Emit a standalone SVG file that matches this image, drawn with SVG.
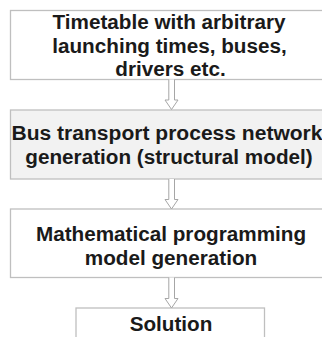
<svg xmlns="http://www.w3.org/2000/svg" width="322" height="337" viewBox="0 0 322 337">
<style>
.box{fill:#ffffff;stroke:#bfbfbf;stroke-width:1.3}
.gray{fill:#f2f2f2}
.t{font-family:"Liberation Sans",Arial,sans-serif;font-weight:bold;font-size:20.7px;fill:#1a1a1a;text-anchor:middle}
.arr{fill:#ffffff;stroke:#a6a6a6;stroke-width:1}
</style>
<rect width="322" height="337" fill="#ffffff"/>
<g id="node-timetable">
<rect class="box" x="10.5" y="10.5" width="330" height="69"/>
<text class="t" x="169" y="28.5">Timetable with arbitrary</text>
<text class="t" x="169.5" y="52.5">launching times, buses,</text>
<text class="t" x="170.5" y="75.5">drivers etc.</text>
</g>
<g id="node-network">
<rect class="box gray" x="10.5" y="110" width="330" height="69"/>
<text class="t" x="167" y="140" textLength="311" lengthAdjust="spacingAndGlyphs">Bus transport process network</text>
<text class="t" x="169" y="164">generation (structural model)</text>
</g>
<g id="node-math">
<rect class="box" x="10.5" y="209" width="330" height="68.5"/>
<text class="t" x="171" y="240.5">Mathematical programming</text>
<text class="t" x="171" y="264.5">model generation</text>
</g>
<g id="node-solution">
<rect class="box" x="76" y="308" width="188.5" height="40"/>
<text class="t" x="171" y="331">Solution</text>
</g>
<g id="connectors">
<path class="arr" d="M168.8 79.5 V100 H165 L171.5 109.5 L178 100 H174.5 V79.5"/>
<path class="arr" d="M168.8 179 V199.5 H165 L171.5 209 L178 199.5 H174.5 V179"/>
<path class="arr" d="M168.8 277.5 V298.5 H165 L171.5 308 L178 298.5 H174.5 V277.5"/>
</g>
</svg>
